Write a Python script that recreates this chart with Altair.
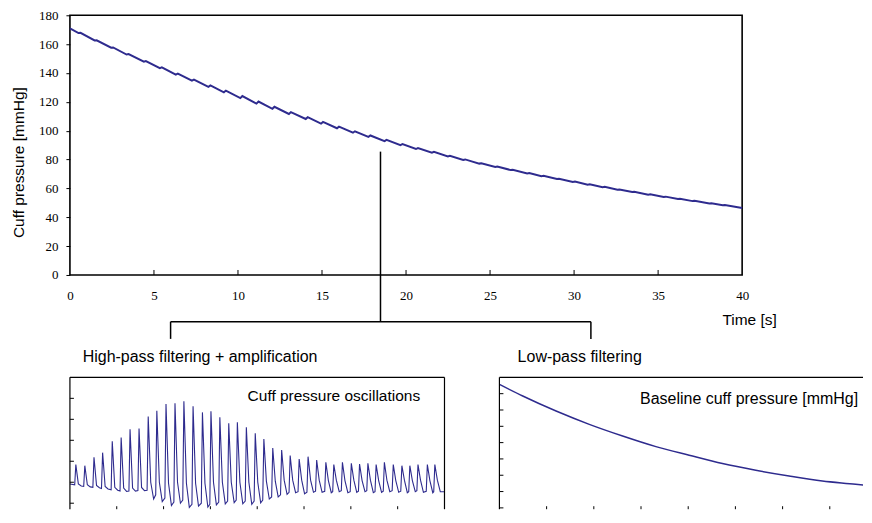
import altair as alt
import pandas as pd

# ---------------- data ----------------
# heartbeat times (s), shared by top trace and oscillation trace
beat_t = [0.63, 1.59, 2.57, 3.49, 4.52, 5.47, 6.42, 7.38, 8.36, 9.28,
          10.26, 11.22, 12.17, 13.15, 14.15, 15.06, 16.01, 16.96, 17.88, 18.84,
          19.79, 20.71, 21.66, 22.61, 23.52, 24.48, 25.43, 26.35, 27.33, 28.18,
          29.10, 30.05, 30.93, 31.82, 32.70, 33.58, 34.53, 35.45, 36.30, 37.17,
          38.17, 38.97]

# top panel: cuff pressure (mmHg) just before each beat and at each small bump
top_start = 171.0
top_end = 46.4
top_foot = [167.7, 162.6, 157.5, 152.8, 147.8, 143.3, 138.9, 134.7, 130.4, 126.6,
            122.6, 118.8, 115.2, 111.6, 108.1, 104.9, 101.7, 98.6, 95.7, 92.8,
            90.0, 87.3, 84.7, 82.1, 79.7, 77.2, 74.9, 72.7, 70.4, 68.5,
            66.5, 64.5, 62.6, 60.9, 59.1, 57.5, 55.7, 54.1, 52.6, 51.2, 49.5, 48.3]
top_peak = [167.8, 162.7, 157.7, 153.1, 148.3, 143.9, 139.6, 135.4, 131.4, 127.8,
            124.0, 120.2, 116.6, 112.9, 109.4, 106.1, 102.8, 99.6, 96.7, 93.7,
            90.8, 88.0, 85.3, 82.6, 80.1, 77.5, 75.2, 73.0, 70.6, 68.7,
            66.7, 64.7, 62.8, 61.1, 59.3, 57.7, 55.9, 54.3, 52.8, 51.4, 49.7, 48.5]

# lower-left panel: amplified oscillations (arbitrary units)
osc_start = 1.92
osc_end = 1.55
osc_foot = [1.88, 1.80, 1.76, 1.70, 1.64, 1.58, 1.58, 1.60, 1.62, 1.40,
            1.25, 1.05, 1.15, 0.95, 1.00, 0.95, 1.05, 1.10, 1.15, 1.10,
            1.10, 1.15, 1.30, 1.40, 1.52, 1.55, 1.52, 1.57, 1.57, 1.55,
            1.60, 1.55, 1.57, 1.60, 1.55, 1.57, 1.60, 1.57, 1.55, 1.60, 1.57, 1.55]
osc_peak = [2.84, 2.79, 3.19, 3.41, 3.95, 4.13, 4.52, 4.56, 5.13, 5.41,
            5.73, 5.76, 5.86, 5.62, 5.33, 5.38, 5.10, 4.81, 4.86, 4.62,
            4.33, 4.06, 3.63, 3.54, 3.27, 3.11, 3.22, 3.06, 2.95, 2.84,
            2.95, 2.90, 2.87, 2.90, 2.84, 2.95, 2.84, 2.79, 2.79, 2.84, 2.84, 2.84]
osc_notch = [1.92, 1.88, 1.85, 1.80, 1.76, 1.72, 1.72, 1.75, 2.00, 2.00,
             1.95, 2.00, 1.95, 1.95, 1.95, 2.00, 2.00, 2.00, 2.00, 2.00,
             2.00, 2.05, 2.05, 2.10, 2.10, 2.10, 2.10, 2.10, 2.08, 2.10,
             2.08, 2.10, 2.08, 2.10, 2.08, 2.10, 2.08, 2.10, 2.08, 2.10, 2.08, 2.10]
osc_min = [1.82, 1.78, 1.74, 1.68, 1.62, 1.56, 1.58, 1.60, 1.20, 1.08,
           0.89, 1.00, 0.80, 0.86, 0.82, 0.92, 0.97, 1.03, 0.97, 0.95,
           1.02, 1.20, 1.30, 1.42, 1.50, 1.45, 1.52, 1.52, 1.50, 1.55,
           1.50, 1.52, 1.55, 1.50, 1.52, 1.55, 1.52, 1.50, 1.55, 1.52, 1.50, 1.55]

# lower-right panel: baseline cuff pressure (mmHg)
base_t = [0, 2.47, 6.0, 9.52, 13.05, 16.58, 20.1, 23.63, 27.16, 30.69, 34.21, 37.74, 39.36]
base_p = [171.4, 157.1, 138.7, 122.4, 108.1, 95.1, 84.5, 74.3, 66.1, 59.1, 53.0, 49.0, 46.9]

# axis ticks / labels
top_x_ticks = [0, 5, 10, 15, 20, 25, 30, 35, 40]
top_x_inner = [5, 10, 15, 20, 25, 30, 35]
top_y_ticks = [0, 20, 40, 60, 80, 100, 120, 140, 160, 180]
low_x_inner = [5, 10, 15, 20, 25, 30, 35]
osc_y_inner = [1, 2, 3, 4, 5, 6]
base_y_inner = [20, 40, 60, 80, 100, 120, 140, 160]

# bracket connecting top panel with the two lower panels (top-panel data units)
br_x = [18.48, 5.99, 5.99, 31.0]
br_x2 = [18.48, 31.0, 5.99, 31.0]
br_y = [85.5, -32.4, -32.4, -32.4]
br_y2 = [-32.4, -32.4, -44.3, -44.3]

# labels under the bracket (top-panel data units)
step_labels = ["High-pass filtering + amplification", "Low-pass filtering"]
step_t = [0.76, 26.64]
step_p = [-60.6, -60.6]

# ---------------- build tables ----------------
top_t = [0.0]
top_p = [top_start]
for t, f, p in zip(beat_t, top_foot, top_peak):
    top_t += [t - 0.12, t]
    top_p += [f, p]
top_t.append(40.0)
top_p.append(top_end)
top_df = pd.DataFrame({"t": top_t, "p": top_p})

osc_t = [0.0]
osc_v = [osc_start]
for t, f, pk, n, m in zip(beat_t, osc_foot, osc_peak, osc_notch, osc_min):
    osc_t += [t - 0.12, t, t + 0.27, t + 0.58]
    osc_v += [f, pk, n, m]
osc_t.append(40.0)
osc_v.append(osc_end)
osc_df = pd.DataFrame({"t": osc_t, "v": osc_v})

base_df = pd.DataFrame({"t": base_t, "p": base_p})

LINE = "#2e2b8e"
SANS = "Liberation Sans"
SERIF = "Liberation Serif"
one = pd.DataFrame({"k": [0]})

# ---------------- top panel ----------------
TW, TH = 673, 260
xs_top = alt.Scale(domain=[0, 40], nice=False, zero=False)
ys_top = alt.Scale(domain=[0, 180], nice=False, zero=False)

x_axis_top = alt.Axis(
    values=top_x_ticks, ticks=False, tickSize=0, domain=False, grid=False,
    labelFont=SERIF, labelFontSize=13, labelColor="black", labelPadding=25,
    labelBaseline="alphabetic", labelFlush=False, labelOverlap=False,
    title="Time [s]", titleFont=SANS, titleFontSize=15.5, titleFontWeight="normal",
    titleColor="black", titleX=680, titleY=50, titleAlign="center",
    titleBaseline="alphabetic")
y_axis_top = alt.Axis(
    values=top_y_ticks, ticks=True, tickSize=4, tickColor="black",
    tickWidth=1, domain=False, grid=False,
    labelFont=SERIF, labelFontSize=13, labelColor="black", labelPadding=8,
    labelFlush=False, labelOverlap=False,
    title="Cuff pressure [mmHg]", titleFont=SANS, titleFontSize=15.5,
    titleFontWeight="normal", titleColor="black", titleAngle=270,
    titleX=-46, titleY=147, titleAlign="center", titleBaseline="alphabetic",
    titleLimit=400)

X_TOP = alt.X("t:Q", scale=xs_top, axis=x_axis_top)
Y_TOP = alt.Y("p:Q", scale=ys_top, axis=y_axis_top)

top_line = alt.Chart(top_df).mark_line(color=LINE, strokeWidth=2).encode(x=X_TOP, y=Y_TOP)

top_ticks = alt.Chart(pd.DataFrame({"t": top_x_inner})).mark_rule(
    color="black", strokeWidth=1).encode(
    x=X_TOP, y=alt.value(TH), y2=alt.value(TH - 5))

bracket = alt.Chart(pd.DataFrame({"t": br_x, "t2": br_x2, "p": br_y, "p2": br_y2})).mark_rule(
    color="black", strokeWidth=1.5, clip=False).encode(
    x=X_TOP, x2="t2:Q", y=Y_TOP, y2="p2:Q")

step_txt = alt.Chart(pd.DataFrame({"t": step_t, "p": step_p, "label": step_labels})).mark_text(
    align="left", baseline="alphabetic", font=SANS, fontSize=16, color="black",
    clip=False).encode(x=X_TOP, y=Y_TOP, text="label:N")

top = alt.layer(top_line, top_ticks, bracket, step_txt).properties(
    width=TW, height=TH,
    view=alt.ViewBackground(stroke="black", strokeWidth=1.6))

# ---------------- lower panels (cut off at the page bottom) ----------------
LW, LH = 375, 132
xs_low = alt.Scale(domain=[0, 40], nice=False, zero=False)
ys_osc = alt.Scale(domain=[7 - LH / 21.0, 7], nice=False, zero=False)

osc_line = alt.Chart(osc_df).mark_line(color=LINE, strokeWidth=1.1, clip=True).encode(
    x=alt.X("t:Q", scale=xs_low, axis=None),
    y=alt.Y("v:Q", scale=ys_osc, axis=None))
osc_yt = alt.Chart(pd.DataFrame({"v": osc_y_inner})).mark_rule(color="black").encode(
    y=alt.Y("v:Q", scale=ys_osc, axis=None), x=alt.value(0), x2=alt.value(4))
osc_xt = alt.Chart(pd.DataFrame({"t": low_x_inner})).mark_rule(color="black").encode(
    x=alt.X("t:Q", scale=xs_low, axis=None), y=alt.value(LH), y2=alt.value(LH - 3))
osc_txt = alt.Chart(pd.DataFrame({"t": [37.4], "v": [5.87],
                                  "label": ["Cuff pressure oscillations"]})).mark_text(
    align="right", baseline="alphabetic", font=SANS, fontSize=15.5, color="black").encode(
    x=alt.X("t:Q", scale=xs_low, axis=None), y=alt.Y("v:Q", scale=ys_osc, axis=None),
    text="label:N")
l_top = alt.Chart(one).mark_rule(color="black", strokeWidth=1.2).encode(
    x=alt.value(0), x2=alt.value(LW), y=alt.value(0))
l_left = alt.Chart(one).mark_rule(color="black", strokeWidth=1.2).encode(
    x=alt.value(0), y=alt.value(0), y2=alt.value(LH))
l_right = alt.Chart(one).mark_rule(color="black", strokeWidth=1.2).encode(
    x=alt.value(LW), y=alt.value(0), y2=alt.value(LH))

left = alt.layer(osc_line, osc_yt, osc_xt, osc_txt, l_top, l_left, l_right).properties(
    width=LW, height=LH,
    view=alt.ViewBackground(strokeOpacity=0))

RW, RH = 364, 132
xs_base = alt.Scale(domain=[0, RW / 9.45], nice=False, zero=False)
ys_base = alt.Scale(domain=[180 - RH * 180 / 147.0, 180], nice=False, zero=False)

base_line = alt.Chart(base_df).mark_line(color=LINE, strokeWidth=1.5, clip=True,
                                         interpolate="monotone").encode(
    x=alt.X("t:Q", scale=xs_base, axis=None),
    y=alt.Y("p:Q", scale=ys_base, axis=None))
base_yt = alt.Chart(pd.DataFrame({"p": base_y_inner})).mark_rule(color="black").encode(
    y=alt.Y("p:Q", scale=ys_base, axis=None), x=alt.value(0), x2=alt.value(4))
base_xt = alt.Chart(pd.DataFrame({"t": low_x_inner})).mark_rule(color="black").encode(
    x=alt.X("t:Q", scale=xs_base, axis=None), y=alt.value(RH), y2=alt.value(RH - 3))
base_txt = alt.Chart(pd.DataFrame({"t": [14.9], "p": [147.8],
                                   "label": ["Baseline cuff pressure [mmHg]"]})).mark_text(
    align="left", baseline="alphabetic", font=SANS, fontSize=16, color="black").encode(
    x=alt.X("t:Q", scale=xs_base, axis=None), y=alt.Y("p:Q", scale=ys_base, axis=None),
    text="label:N")
r_top = alt.Chart(one).mark_rule(color="black", strokeWidth=1.2).encode(
    x=alt.value(0), x2=alt.value(RW), y=alt.value(0))
r_left = alt.Chart(one).mark_rule(color="black", strokeWidth=1.2).encode(
    x=alt.value(0), y=alt.value(0), y2=alt.value(RH))

right = alt.layer(base_line, base_yt, base_xt, base_txt, r_top, r_left).properties(
    width=RW, height=RH,
    view=alt.ViewBackground(strokeOpacity=0))

lower = alt.hconcat(left, right, spacing=55, bounds="flush")

chart = alt.vconcat(top, lower, spacing=102.5, bounds="flush").properties(
    padding={"left": 3, "top": 0, "right": 0, "bottom": 0},
    background="white",
)

chart.save("out.html", embed_options={"renderer": "svg", "actions": False})
